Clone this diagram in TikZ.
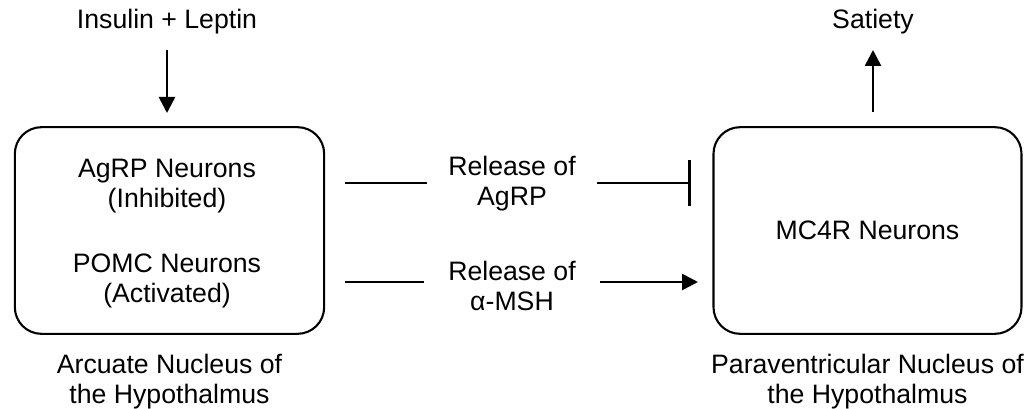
\documentclass[tikz,border=0pt]{standalone}
\usepackage{fontspec}
\setmainfont{Liberation Sans}
\usetikzlibrary{arrows.meta}
\usetikzlibrary{positioning}

\tikzset{
  region/.style={draw, line width=0.55mm, rounded corners=20pt,
    minimum width=232pt, minimum height=155pt},
  label/.style={align=center, font=\fontsize{20}{22.5}\selectfont},
  link/.style={line width=0.7mm},
  head/.style={-{Triangle[length=12pt, width=12pt]}}
}

\begin{document}
\begin{tikzpicture}[x=0.75pt, y=-0.75pt]
      \useasboundingbox (0, 0) rectangle (1029, 409);

      % nuclei
      \node[region] (arc) at (169.5, 230.5) {};
      \node[region, minimum width=231pt] (pvn) at (867.5, 230.5) {};

      \node[label] (agrpn) at (167, 186) {AgRP Neurons\\(Inhibited)};
      \node[label] (pomcn) at (167, 281) {POMC Neurons\\(Activated)};
      \node[label] (mc4r) at (pvn.center) {MC4R Neurons};

      \node[label, below=11pt of arc] {Arcuate Nucleus of\\the Hypothalmus};
      \node[label, below=11pt of pvn] {Paraventricular Nucleus of\\the Hypothalmus};

      % signals
      \node[label] (hormones) at (167, 22) {Insulin + Leptin};
      \node[label] (satiety) at (873, 22) {Satiety};
      \coordinate (inTop) at (167, 50);
      \coordinate (inEnd) at (167, 113);
      \coordinate (outStart) at (873, 112);
      \coordinate (outEnd) at (873, 50);

      \draw[link, head] (inTop) -- (inEnd);
      \draw[link, head] (outStart) -- (outEnd);

      % releases
      \node[label, inner xsep=16pt] (agrp) at (512, 184) {Release of\\AgRP};
      \node[label, inner xsep=18pt] (msh) at (512, 286) {Release of\\α-MSH};
      \coordinate (agrpStart) at (345, 183);
      \coordinate (agrpEnd) at (691, 183);
      \coordinate (mshStart) at (345, 282);
      \coordinate (mshEnd) at (698, 282);

      \draw[link] (agrpStart) -- (agrp.west |- agrpStart);
      \draw[link, -{Bar[width=35pt, line width=0.7mm]}] (agrp.east |- agrpEnd) -- (agrpEnd);
      \draw[link] (mshStart) -- (msh.west |- mshStart);
      \draw[link, head] (msh.east |- mshEnd) -- (mshEnd);
    \end{tikzpicture}
\end{document}
